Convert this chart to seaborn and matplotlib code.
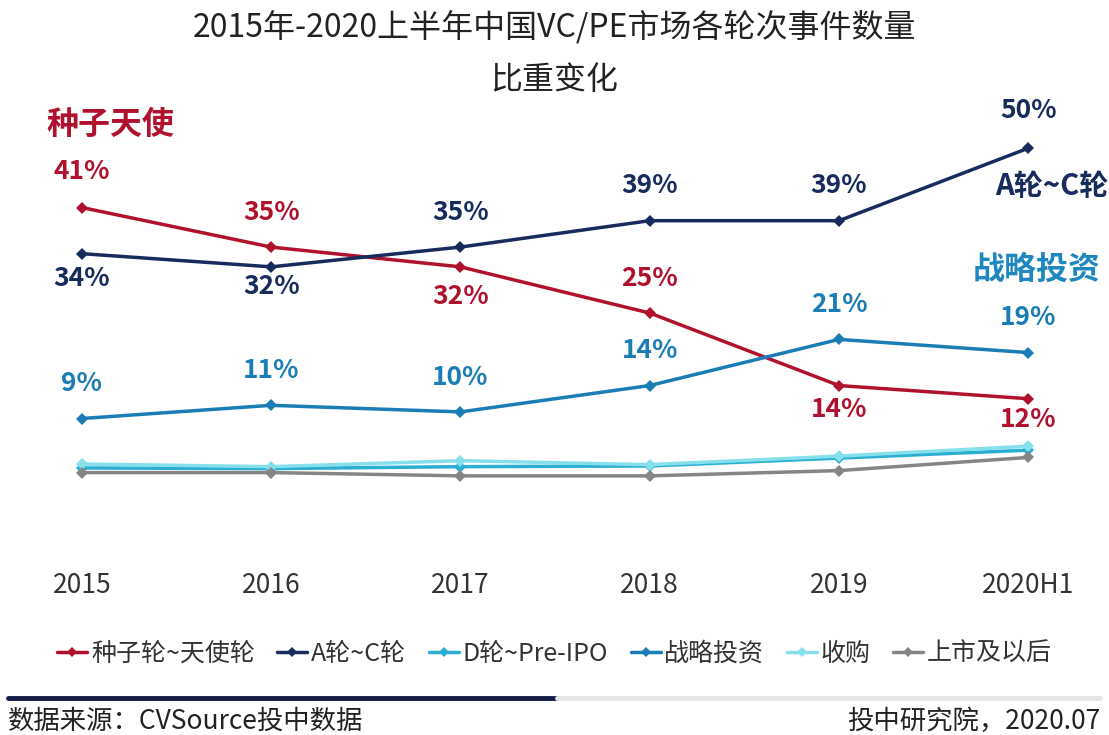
import pandas as pd
import seaborn as sns
import matplotlib.pyplot as plt
from matplotlib.lines import Line2D

years = ["2015", "2016", "2017", "2018", "2019", "2020H1"]
series = ["种子轮~天使轮", "A轮~C轮", "D轮~Pre-IPO", "战略投资", "收购", "上市及以后"]
seed_angel = [41, 35, 32, 25, 14, 12]
round_a_c = [34, 32, 35, 39, 39, 50]
round_d_pre = [1.5, 1.4, 1.7, 1.8, 3.0, 4.2]
strategic = [9, 11, 10, 14, 21, 19]
acquisition = [2.1, 1.7, 2.6, 2.0, 3.3, 4.8]
ipo_after = [0.8, 0.8, 0.3, 0.3, 1.1, 3.1]

colors = {
    "种子轮~天使轮": "#b0122e",
    "A轮~C轮": "#172b5c",
    "D轮~Pre-IPO": "#2aaed2",
    "战略投资": "#1b7db5",
    "收购": "#86e0ec",
    "上市及以后": "#858585",
}

values = [seed_angel, round_a_c, round_d_pre, strategic, acquisition, ipo_after]
rows = []
for name, vals in zip(series, values):
    for i, v in enumerate(vals):
        rows.append({"year": i, "series": name, "value": v})
df = pd.DataFrame(rows)

sns.set_theme(style="white")
plt.rcParams['font.family'] = ['Noto Sans CJK SC', 'DejaVu Sans']

fig = plt.figure(figsize=(11.09, 7.35), dpi=100)
ax = fig.add_axes([0.0397, 0.2449, 0.9387, 0.619])

sns.lineplot(data=df, x="year", y="value", hue="series", hue_order=series,
             palette=colors, marker="D", markersize=6, markeredgewidth=0,
             linewidth=2.5, legend=False, ax=ax)

ax.set_xlim(-0.2, 5.3)
ax.set_ylim(-11.7, 57.3)
ax.set_xticks(range(len(years)))
ax.set_xticklabels(years, fontsize=19, color="#333333")
ax.tick_params(axis="x", length=0, pad=12)
ax.set_yticks([])
ax.set_xlabel("")
ax.set_ylabel("")
for s in ax.spines.values():
    s.set_visible(False)

# percentage labels (offset in points: positive = above)
red_off = [26, 25, -21, 25, -17, -15]
navy_off = [-18, -14, 25, 25, 25, 27]
blue_off = [25, 25, 25, 25, 25, 25]
for vals, offs, name in [(seed_angel, red_off, "种子轮~天使轮"),
                         (round_a_c, navy_off, "A轮~C轮"),
                         (strategic, blue_off, "战略投资")]:
    for i, (v, o) in enumerate(zip(vals, offs)):
        ax.annotate(f"{v:.0f}%", (i, v), xytext=(0, o), textcoords="offset points",
                    ha="center", va="center", fontsize=19, fontweight="bold",
                    color=colors[name])

# series name labels
fig.text(110 / 1109, 1 - 125 / 735, "种子天使", ha="center", va="center",
         fontsize=23, fontweight="bold", color=colors["种子轮~天使轮"])
fig.text(1052 / 1109, 1 - 186 / 735, "A轮~C轮", ha="center", va="center",
         fontsize=21, fontweight="bold", color=colors["A轮~C轮"])
fig.text(1037 / 1109, 1 - 270 / 735, "战略投资", ha="center", va="center",
         fontsize=23, fontweight="bold", color="#1e87bf")

# title
fig.text(0.5, 1 - 28 / 735, "2015年-2020上半年中国VC/PE市场各轮次事件数量",
         ha="center", va="center", fontsize=23, color="#222222")
fig.text(0.5, 1 - 80 / 735, "比重变化", ha="center", va="center",
         fontsize=23, color="#222222")

# legend
handles = [Line2D([0], [0], color=colors[s], marker="D", markersize=5,
                  markeredgewidth=0, linewidth=2.5) for s in series]
fig.legend(handles, series, loc="center", bbox_to_anchor=(0.5, 1 - 654 / 735),
           ncol=6, frameon=False, fontsize=18, handlelength=1.2,
           handletextpad=0.15, columnspacing=0.9, labelcolor="#333333")

# footer
fig.add_artist(Line2D([8 / 1109, 557 / 1109], [1 - 698 / 735] * 2,
                      color="#141c4a", linewidth=3.5))
fig.add_artist(Line2D([557 / 1109, 1100 / 1109], [1 - 698 / 735] * 2,
                      color="#e6e6e6", linewidth=3.5))
fig.text(8 / 1109, 1 - 721 / 735, "数据来源：CVSource投中数据", ha="left",
         va="center", fontsize=19, color="#222222")
fig.text(1100 / 1109, 1 - 721 / 735, "投中研究院，2020.07", ha="right",
         va="center", fontsize=19, color="#222222")

fig.savefig("out.png", dpi=100, facecolor="white")
